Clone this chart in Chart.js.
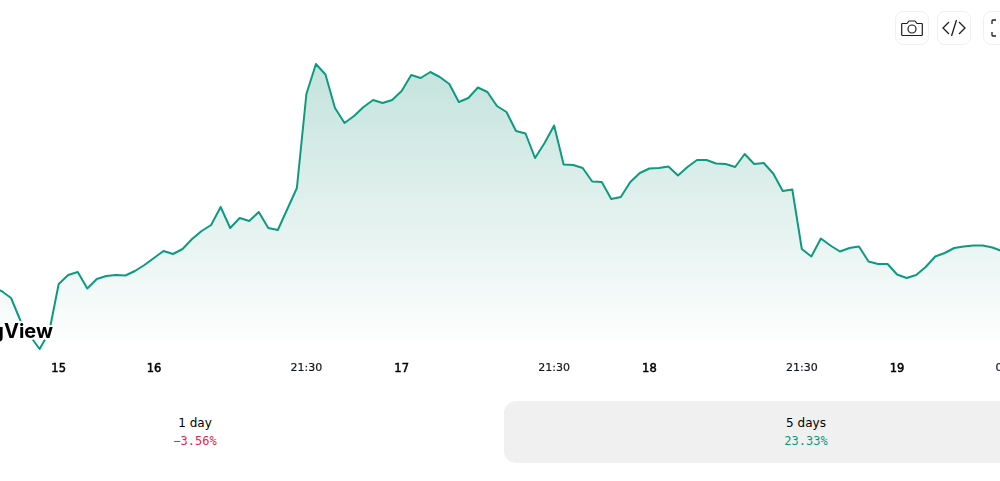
<!DOCTYPE html>
<html>
<head>
<meta charset="utf-8">
<script src="https://cdn.jsdelivr.net/npm/chart.js@4"></script>
<style>
html,body{margin:0;padding:0;background:#fff;overflow:hidden;width:1000px;height:481px}
body{position:relative;font-family:"DejaVu Sans",sans-serif}
#wrap{position:absolute;left:-8px;top:0;width:1048px;height:380px}
#logo{position:absolute;right:947px;top:319px;font:700 20px Inter,sans-serif;color:#000;white-space:nowrap;-webkit-text-stroke:4px #fff;paint-order:stroke fill;line-height:24px}
.btn{position:absolute;top:11px;width:32px;height:32px;border:1px solid #f0f0f0;border-radius:8px;background:#fff;display:flex;align-items:center;justify-content:center}
.tab{position:absolute;top:401px;height:62px;width:604px;border-radius:12px;text-align:center;font-size:12px}
.tab .name{position:absolute;left:0;right:0;top:15px;line-height:15px;color:#000}
.tab .pct{position:absolute;left:0;right:0;top:33px;line-height:15px;font-family:"DejaVu Sans Mono",monospace}
</style>
</head>
<body>
<div id="wrap"><canvas id="chart"></canvas></div>
<div id="logo">TradingView</div>

<div class="btn" style="left:895px">
<svg width="24" height="24" viewBox="0 0 24 24" fill="none" stroke="#1e1e1e" stroke-width="1.2"><path d="M2.5 7.5h4.5l2-2.5h6l2 2.5h4.5a.8.8 0 0 1 .8.8v10.4a.8.8 0 0 1-.8.8h-19a.8.8 0 0 1-.8-.8V8.300a.8.8 0 0 1 .8-.8z"/><circle cx="12" cy="13" r="4"/></svg>
</div>
<div class="btn" style="left:937px">
<svg width="28" height="24" viewBox="0 0 28 24" fill="none" stroke="#1e1e1e" stroke-width="1.3"><path d="M9 6l-6 6 6 6M19 6l6 6-6 6M16.500 4l-5 16"/></svg>
</div>
<div class="btn" style="left:983px">
<svg width="24" height="24" viewBox="0 0 24 24" fill="none" stroke="#1e1e1e" stroke-width="1.3"><path d="M8 4H5a1 1 0 0 0-1 1v3M16 4h3a1 1 0 0 1 1 1v3M8 20H5a1 1 0 0 1-1-1v-3M16 20h3a1 1 0 0 0 1-1v-3"/></svg>
</div>

<div class="tab" style="left:-107px">
<div class="name">1 day</div>
<div class="pct" style="color:#e0284a">−3.56%</div>
</div>
<div class="tab" style="left:504px;background:#f0f0f0">
<div class="name">5 days</div>
<div class="pct" style="color:#089981">23.33%</div>
</div>

<script>
// relative price (no y axis is shown)
const prices = [62,59,52,29,14,1,18,66,75,78,61.5,71,74,75,74.5,79,85,92,99,96,101,
  111,119,125,143,122,132,129,138,122,120,141,162,256,286,275.5,242,227,234,243,250,
  247,250,259,275,272,278,273,266,248,252,262.5,258,244,238,219,216.5,192,207,224.5,185.5,
  185,182,168.5,168,151,153,168,177,181.5,182,183.5,174.5,183,190,190,186.5,186,183,196,186,
  187,176.5,159,160.5,101,93.5,111.5,104.5,98.5,102,103.5,88.5,86,86,75.5,72,75,83,93.5,97,
  102,103.5,104.5,104.5,102.5,99];
const tickSlots = [7,17,33,43,59,69,85,95,107];
const tickTexts = ['15','16','21:30','17','21:30','18','21:30','19','09:30'];
const dayTicks = ['15','16','17','18','19'];
const slotCount = 111;

const labels = [];
for(let i=0;i<slotCount;i++){
  const k = tickSlots.indexOf(i);
  labels.push(k>=0 ? tickTexts[k] : '');
}

const ctx = document.getElementById('chart').getContext('2d');
const fillGrad = ctx.createLinearGradient(0,64,0,350);
fillGrad.addColorStop(0,'rgba(8,135,110,0.24)');
fillGrad.addColorStop(1,'rgba(8,135,110,0)');

new Chart(ctx,{
  type:'line',
  data:{labels:labels,datasets:[{
    data:prices,
    borderColor:'#0e9a80',
    borderWidth:2,
    backgroundColor:fillGrad,
    fill:'start',
    pointRadius:0,
    tension:0,
    borderJoinStyle:'round'
  }]},
  options:{
    responsive:true,
    maintainAspectRatio:false,
    animation:false,
    layout:{padding:0},
    plugins:{legend:{display:false},tooltip:{enabled:false}},
    scales:{
      x:{
        offset:false,
        grid:{display:false},
        border:{display:false},
        afterFit:s=>{s.height=30;s.paddingLeft=0;s.paddingRight=0;},
        ticks:{
          autoSkip:false,
          maxRotation:0,
          padding:4,
          color:c=>dayTicks.includes(labels[c.index])?'#000':'#131722',
          textStrokeColor:c=>dayTicks.includes(labels[c.index])?'#000':'#131722',
          textStrokeWidth:c=>dayTicks.includes(labels[c.index])?0.5:0.2,
          font:c=>({family:'"DejaVu Sans"',size:dayTicks.includes(labels[c.index])?11.5:11,weight:'normal'})
        }
      },
      y:{display:false,min:0,max:350}
    }
  }
});
</script>
</body>
</html>
